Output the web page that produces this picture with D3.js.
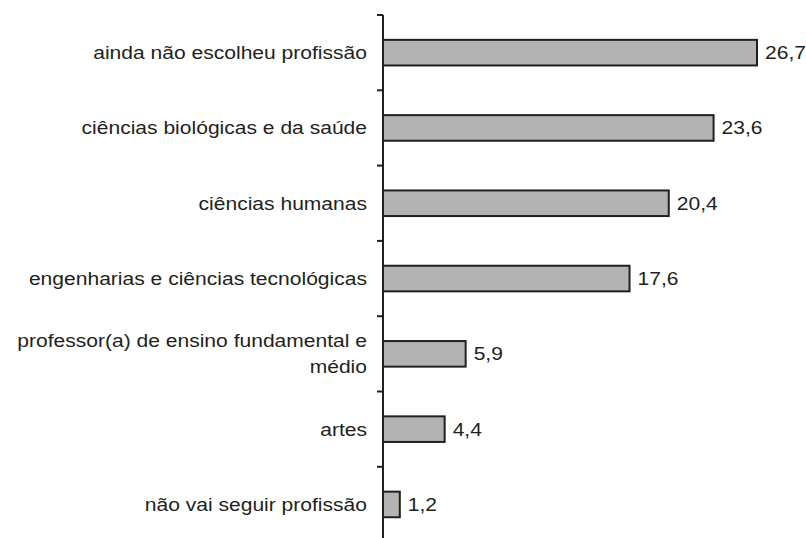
<!DOCTYPE html>
<html>
<head>
<meta charset="utf-8">
<script src="https://cdn.jsdelivr.net/npm/d3@7"></script>
<style>
  body { margin: 0; background: #fff; }
  svg text { font-family: "Liberation Sans", Arial, sans-serif; fill: #231f20; }
</style>
</head>
<body>
<svg id="chart" width="806" height="538"></svg>
<script>
// data
var categories = [
    ['ainda não escolheu profissão'],
    ['ciências biológicas e da saúde'],
    ['ciências humanas'],
    ['engenharias e ciências tecnológicas'],
    ['professor(a) de ensino fundamental e', 'médio'],
    ['artes'],
    ['não vai seguir profissão']
];
var values = [26.7, 23.6, 20.4, 17.6, 5.9, 4.4, 1.2];
var valueLabels = ['26,7', '23,6', '20,4', '17,6', '5,9', '4,4', '1,2'];

var svg = d3.select('#chart');

var axisX = 383;
var topY = 15, step = 75.3;
var fontSize = 18.3, stretch = 1.15;

var x = d3.scaleLinear().domain([0, 26.7]).range([axisX, 757]);
var y = d3.scaleBand()
    .domain(d3.range(values.length))
    .range([topY, topY + step * values.length])
    .paddingInner(0.66)
    .paddingOuter(0.33);

// axis line
svg.append('line')
    .attr('x1', axisX).attr('x2', axisX)
    .attr('y1', topY).attr('y2', topY + step * values.length)
    .attr('stroke', '#231f20')
    .attr('stroke-width', 2);

// ticks between categories
svg.selectAll('.tick')
    .data(d3.range(values.length + 1))
    .enter()
    .append('line')
        .attr('class', 'tick')
        .attr('x1', axisX - 6).attr('x2', axisX)
        .attr('y1', function (i) { return topY + step * i; })
        .attr('y2', function (i) { return topY + step * i; })
        .attr('stroke', '#231f20')
        .attr('stroke-width', 2);

// bars
svg.selectAll('.bar')
    .data(values)
    .enter()
    .append('rect')
        .attr('class', 'bar')
        .attr('x', axisX)
        .attr('y', function (d, i) { return y(i); })
        .attr('width', function (d) { return x(d) - axisX; })
        .attr('height', y.bandwidth())
        .attr('fill', '#b3b3b3')
        .attr('stroke', '#231f20')
        .attr('stroke-width', 2);

// value labels
svg.selectAll('.val')
    .data(values)
    .enter()
    .append('text')
        .attr('class', 'val')
        .attr('transform', function (d, i) {
            return 'translate(' + (x(d) + 8) + ',' + (y(i) + y.bandwidth() / 2) + ') scale(' + stretch + ',1)';
        })
        .attr('dy', '0.35em')
        .attr('font-size', fontSize)
        .text(function (d, i) { return valueLabels[i]; });

// category labels
var lab = svg.selectAll('.cat')
    .data(categories)
    .enter()
    .append('text')
        .attr('class', 'cat')
        .attr('text-anchor', 'end')
        .attr('font-size', fontSize)
        .attr('transform', function (d, i) {
            return 'translate(367,' + (y(i) + y.bandwidth() / 2) + ') scale(' + stretch + ',1)';
        });

lab.selectAll('tspan')
    .data(function (d) { return d; })
    .enter()
    .append('tspan')
        .attr('x', 0)
        .attr('dy', function (t, j, nodes) {
            var n = nodes.length;
            if (j === 0) return (0.35 - (n - 1) * 0.7) + 'em';
            return '1.4em';
        })
        .text(function (t) { return t; });
</script>
</body>
</html>
